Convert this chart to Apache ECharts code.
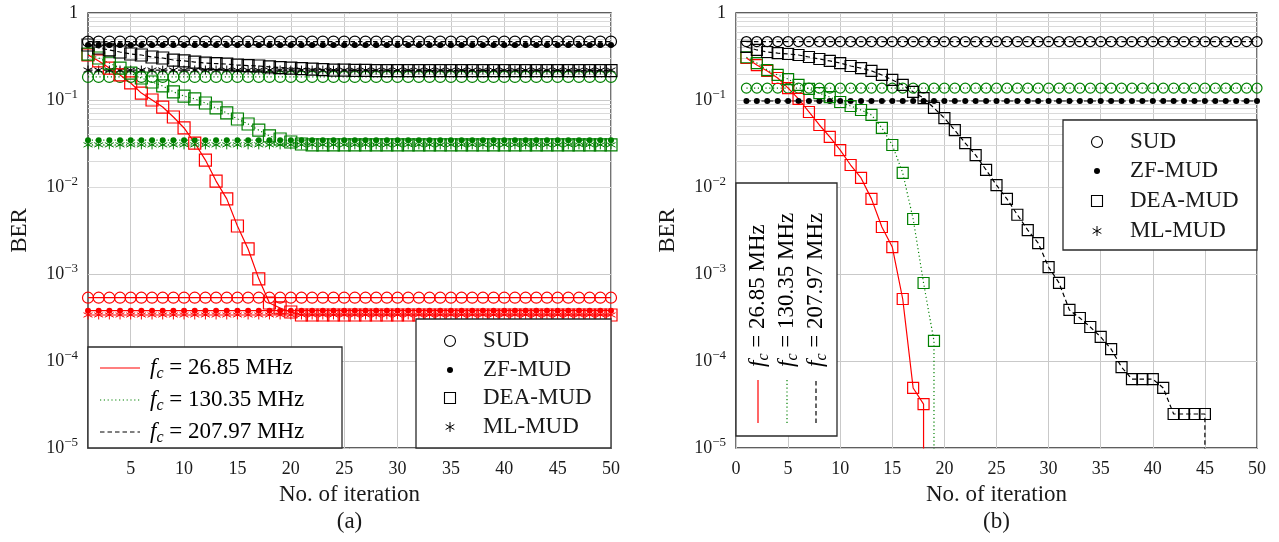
<!DOCTYPE html>
<html><head><meta charset="utf-8">
<script src="https://cdn.jsdelivr.net/npm/echarts@6/dist/echarts.min.js"></script>
<style>html,body{margin:0;padding:0;background:#fff}#c{width:1279px;height:542px}</style>
</head><body><div id="c"></div>
<script>
// ---------------- data ----------------
const FREQ_LABELS = ['26.85', '130.35', '207.97'];          // red, green, black
const METHOD_LABELS = ['SUD', 'ZF-MUD', 'DEA-MUD', 'ML-MUD'];
const X_TICKS_A = [5, 10, 15, 20, 25, 30, 35, 40, 45, 50];
const PANEL_LABELS = ['(a)', '(b)'];

// (a) flat BER levels, order [red, green, black]
const A_SUD = [5.34e-4, 0.184, 0.47];
const A_ZF  = [3.79e-4, 0.0345, 0.43];
const A_ML  = [3.38e-4, 0.0305, 0.221];
// (a) DEA-MUD, iterations 1..50
const A_DEA_RED = [0.33, 0.281, 0.233, 0.194, 0.157, 0.120, 0.100, 0.083, 0.0638, 0.0477,
  0.032, 0.0204, 0.0117, 0.0073, 0.00356, 0.00194, 0.00088, 0.000464, 0.000407, 0.000366,
  0.000338, 0.000338, 0.000338, 0.000338, 0.000338, 0.000338, 0.000338, 0.000338, 0.000338, 0.000338,
  0.000338, 0.000338, 0.000338, 0.000338, 0.000338, 0.000338, 0.000338, 0.000338, 0.000338, 0.000338,
  0.000338, 0.000338, 0.000338, 0.000338, 0.000338, 0.000338, 0.000338, 0.000338, 0.000338, 0.000338];
const A_DEA_GREEN = [0.337, 0.304, 0.266, 0.233, 0.204, 0.179, 0.161, 0.145, 0.124, 0.111,
  0.103, 0.0924, 0.081, 0.071, 0.0605, 0.053, 0.045, 0.0386, 0.0356, 0.0329,
  0.0312, 0.0305, 0.0305, 0.0305, 0.0305, 0.0305, 0.0305, 0.0305, 0.0305, 0.0305,
  0.0305, 0.0305, 0.0305, 0.0305, 0.0305, 0.0305, 0.0305, 0.0305, 0.0305, 0.0305,
  0.0305, 0.0305, 0.0305, 0.0305, 0.0305, 0.0305, 0.0305, 0.0305, 0.0305, 0.0305];
const A_DEA_BLACK = [0.429, 0.396, 0.376, 0.356, 0.338, 0.329, 0.312, 0.304, 0.288, 0.281,
  0.273, 0.266, 0.262, 0.259, 0.252, 0.249, 0.246, 0.240, 0.236, 0.233,
  0.230, 0.227, 0.224, 0.221, 0.221, 0.219, 0.219, 0.218, 0.218, 0.218,
  0.218, 0.218, 0.218, 0.218, 0.218, 0.218, 0.218, 0.218, 0.218, 0.218,
  0.218, 0.218, 0.218, 0.218, 0.218, 0.218, 0.218, 0.218, 0.218, 0.218];

// (b) flat BER levels [red, green, black] (null = not drawn, BER 0)
const B_SUD = [null, 0.137, 0.47];
const B_ZF  = [null, null, 0.0974];
// (b) DEA-MUD from iteration 1 until BER reaches 0
const B_DEA_RED = [0.304, 0.252, 0.216, 0.179, 0.137, 0.103, 0.0728, 0.0516, 0.0376, 0.0266,
  0.0179, 0.0127, 0.0073, 0.00347, 0.00204, 0.000516, 0.000049, 0.000032];
const B_DEA_GREEN = [0.31, 0.266, 0.221, 0.194, 0.174, 0.149, 0.134, 0.120, 0.108, 0.0948,
  0.0853, 0.0767, 0.0673, 0.0477, 0.0304, 0.0145, 0.00429, 0.000788, 0.00017];
const B_DEA_BLACK = [0.407, 0.376, 0.356, 0.346, 0.338, 0.329, 0.312, 0.296, 0.281, 0.266,
  0.246, 0.233, 0.216, 0.194, 0.170, 0.149, 0.124, 0.105, 0.081, 0.062,
  0.045, 0.032, 0.0233, 0.0157, 0.0105, 0.0073, 0.0048, 0.0032, 0.00227, 0.0012,
  0.00079, 0.000386, 0.000312, 0.000246, 0.000189, 0.000137, 0.000085, 0.000062, 0.000062, 0.000062,
  0.000049, 0.0000246, 0.0000246, 0.0000246, 0.0000246];
const B_ZERO = 1e-9; // BER = 0: curve drops out of the log axis

const N_ITER = 50;

// ---------------- style ----------------
const FONT = "'Liberation Serif', 'DejaVu Serif', serif";
const TXT = '#1a1a1a';
const COLORS = ['#ff0000', '#008000', '#000000'];
const LTYPES = ['solid', [1.2, 2.6], [4.5, 3]];
const ASTER = 'path://M5,0L5,10M0.67,2.5L9.33,7.5M0.67,7.5L9.33,2.5';

function symStyle(method, color, big) {
  if (method === 'SUD') return {symbol: 'circle', symbolSize: big ? 11 : 10,
    itemStyle: {color: 'none', borderColor: color, borderWidth: 1.2}};
  if (method === 'ZF-MUD') return {symbol: 'circle', symbolSize: 6,
    itemStyle: {color: color, borderWidth: 0}};
  if (method === 'DEA-MUD') return {symbol: 'rect', symbolSize: big ? 12 : 11,
    itemStyle: {color: 'none', borderColor: color, borderWidth: 1.2}};
  return {symbol: ASTER, symbolSize: 9,
    itemStyle: {color: 'none', borderColor: color, borderWidth: 1}};
}

function mkSeries(gi, ci, method, data, big) {
  const s = symStyle(method, COLORS[ci], big);
  return Object.assign({
    type: 'line', xAxisIndex: gi, yAxisIndex: gi, name: METHOD_LABELS.indexOf(method) + '-' + ci,
    data: data, showSymbol: true, clip: true, animation: false, silent: true, z: 3,
    lineStyle: {color: COLORS[ci], width: 1.2, type: LTYPES[ci]}
  }, s);
}
function flat(level) { const d = []; if (level == null) return d; for (let i = 1; i <= N_ITER; i++) d.push([i, level]); return d; }
function curve(arr, drop) {
  const d = arr.map((v, i) => [i + 1, v]);
  if (drop) d.push({value: [arr.length, B_ZERO], symbol: 'none'});
  return d;
}

const series = [];
// (a)
for (let ci = 0; ci < 3; ci++) {
  series.push(mkSeries(0, ci, 'SUD', flat(A_SUD[ci]), true));
  series.push(mkSeries(0, ci, 'ZF-MUD', flat(A_ZF[ci]), true));
  series.push(mkSeries(0, ci, 'ML-MUD', flat(A_ML[ci]), true));
}
series.push(mkSeries(0, 0, 'DEA-MUD', curve(A_DEA_RED, false), true));
series.push(mkSeries(0, 1, 'DEA-MUD', curve(A_DEA_GREEN, false), true));
series.push(mkSeries(0, 2, 'DEA-MUD', curve(A_DEA_BLACK, false), true));
// (b)
for (let ci = 0; ci < 3; ci++) {
  if (B_SUD[ci] != null) series.push(mkSeries(1, ci, 'SUD', flat(B_SUD[ci]), false));
  if (B_ZF[ci] != null) series.push(mkSeries(1, ci, 'ZF-MUD', flat(B_ZF[ci]), false));
}
series.push(mkSeries(1, 0, 'DEA-MUD', curve(B_DEA_RED, true), false));
series.push(mkSeries(1, 1, 'DEA-MUD', curve(B_DEA_GREEN, true), false));
series.push(mkSeries(1, 2, 'DEA-MUD', curve(B_DEA_BLACK, true), false));

// minor log grid lines (2..9 x 10^k) via markLine on an empty helper series per grid
const minorVals = [];
for (let k = -5; k < 0; k++) for (let m = 2; m <= 9; m++) minorVals.push(+(m * Math.pow(10, k)).toPrecision(3));
for (let gi = 0; gi < 2; gi++) {
  series.unshift({
    type: 'line', xAxisIndex: gi, yAxisIndex: gi, data: [], silent: true, animation: false, z: 1,
    markLine: {silent: true, animation: false, symbol: ['none', 'none'], label: {show: false}, z: 1,
      lineStyle: {color: '#dadada', width: 1, type: 'solid'},
      data: minorVals.map(v => ({yAxis: v}))}
  });
}

const richY = {
  b: {fontSize: 18, fontFamily: FONT, color: TXT},
  s: {fontSize: 13, fontFamily: FONT, color: TXT, padding: [0, 0, 10, 0]}
};
function yFmt(v) {
  const e = Math.round(Math.log10(v));
  if (e === 0) return '{b|1}';
  return '{b|10}{s|\u2212' + (-e) + '}';
}
function yAxis(gi) {
  return {
    type: 'log', logBase: 10, min: 1e-5, max: 1, gridIndex: gi,
    axisLine: {show: false}, axisTick: {show: false},
    splitLine: {show: true, lineStyle: {color: '#c9c9c9', width: 1}},
    axisLabel: {formatter: yFmt, rich: richY, margin: 10},
    name: 'BER', nameLocation: 'middle', nameRotate: 90, nameGap: 57,
    nameTextStyle: {fontSize: 23, fontFamily: FONT, color: TXT}
  };
}
const xLabel = {fontSize: 18, fontFamily: FONT, color: TXT, margin: 12};
const xName = {fontSize: 23, fontFamily: FONT, color: TXT};

const option = {
  animation: false,
  backgroundColor: '#fff',
  grid: [
    {left: 88, top: 13, width: 523, height: 435, show: true, borderColor: '#2a2a2a', borderWidth: 1.3, backgroundColor: 'transparent'},
    {left: 736, top: 13, width: 521, height: 435, show: true, borderColor: '#2a2a2a', borderWidth: 1.3, backgroundColor: 'transparent'}
  ],
  xAxis: [
    {type: 'value', gridIndex: 0, min: 1, max: 50,
     axisLine: {show: false}, axisTick: {show: false, customValues: X_TICKS_A},
     axisLabel: Object.assign({customValues: X_TICKS_A}, xLabel),
     splitLine: {show: true, lineStyle: {color: '#c9c9c9', width: 1}},
     name: 'No. of iteration', nameLocation: 'middle', nameGap: 35, nameTextStyle: xName},
    {type: 'value', gridIndex: 1, min: 0, max: 50, interval: 5,
     axisLine: {show: false}, axisTick: {show: false},
     axisLabel: xLabel,
     splitLine: {show: true, lineStyle: {color: '#c9c9c9', width: 1}},
     name: 'No. of iteration', nameLocation: 'middle', nameGap: 35, nameTextStyle: xName}
  ],
  yAxis: [yAxis(0), yAxis(1)],
  series: series,
  graphic: []
};

// ---------------- legends / captions (graphic) ----------------
const G = option.graphic;
const richF = {
  i: {fontSize: 23, fontFamily: FONT, fontStyle: 'italic', color: TXT},
  sub: {fontSize: 16, fontFamily: FONT, fontStyle: 'italic', color: TXT, padding: [11, 0, 0, 0]},
  t: {fontSize: 23, fontFamily: FONT, color: TXT}
};
function fcText(i) { return '{i|f}{sub|c}{t| = ' + FREQ_LABELS[i] + ' MHz}'; }
function box(x, y, w, h) {
  G.push({type: 'rect', shape: {x: x, y: y, width: w, height: h}, z: 50,
    style: {fill: '#fff', stroke: '#2a2a2a', lineWidth: 1.3}});
}
function lineSample(x1, y1, x2, y2, ci) {
  const lt = LTYPES[ci];
  G.push({type: 'line', shape: {x1: x1, y1: y1, x2: x2, y2: y2}, z: 51,
    style: {stroke: COLORS[ci], lineWidth: 1.2, lineDash: lt === 'solid' ? null : lt}});
}
function markerSample(x, y, k) {
  const c = '#000';
  if (k === 0) G.push({type: 'circle', shape: {cx: x, cy: y, r: 5.5}, z: 51, style: {fill: 'none', stroke: c, lineWidth: 1.1}});
  else if (k === 1) G.push({type: 'circle', shape: {cx: x, cy: y, r: 3}, z: 51, style: {fill: c}});
  else if (k === 2) G.push({type: 'rect', shape: {x: x - 5.5, y: y - 5.5, width: 11, height: 11}, z: 51, style: {fill: 'none', stroke: c, lineWidth: 1.1}});
  else {
    const r = 5;
    for (let a = 0; a < 3; a++) {
      const ang = Math.PI / 2 + a * Math.PI / 3;
      G.push({type: 'line', z: 51, shape: {x1: x - r * Math.cos(ang), y1: y - r * Math.sin(ang), x2: x + r * Math.cos(ang), y2: y + r * Math.sin(ang)},
        style: {stroke: c, lineWidth: 1}});
    }
  }
}
function methodLegend(x, y, w, h, rows) {
  box(x, y, w, h);
  rows.forEach((ry, k) => {
    markerSample(x + 34, ry, k);
    G.push({type: 'text', x: x + 67, y: ry, z: 52,
      style: {text: METHOD_LABELS[k], font: '23px ' + FONT, fill: TXT, verticalAlign: 'middle', align: 'left'}});
  });
}
// (a) frequency legend
box(88, 347, 254, 101);
[368, 400, 432].forEach((ry, ci) => {
  lineSample(100, ry, 140, ry, ci);
  G.push({type: 'text', x: 150, y: ry, z: 52,
    style: {text: fcText(ci), rich: richF, verticalAlign: 'middle', align: 'left'}});
});
// (a) method legend
methodLegend(416, 319, 195, 129, [341, 370, 398, 427]);
// (b) method legend
methodLegend(1063, 120, 194, 130, [142, 171, 201, 231]);
// (b) rotated frequency legend
box(736, 183, 101, 253);
[758, 787, 816].forEach((rx, ci) => {
  lineSample(rx, 423, rx, 380, ci);
  G.push({type: 'text', x: rx, y: 367, rotation: Math.PI / 2, z: 52,
    style: {text: fcText(ci), rich: richF, verticalAlign: 'middle', align: 'left'}});
});
// panel captions
[349.5, 996.5].forEach((cx, i) => {
  G.push({type: 'text', x: cx, y: 522, z: 52,
    style: {text: PANEL_LABELS[i], font: '23px ' + FONT, fill: TXT, align: 'center', verticalAlign: 'middle'}});
});

const chart = echarts.init(document.getElementById('c'), null, {renderer: 'canvas'});
chart.setOption(option);
</script></body></html>
